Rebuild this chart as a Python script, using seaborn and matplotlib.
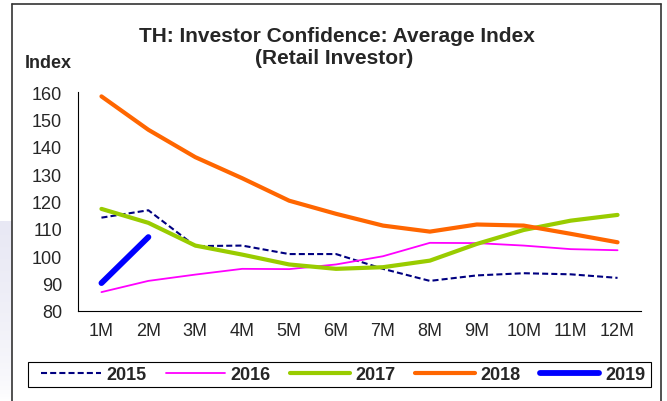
import numpy as np
import pandas as pd
import matplotlib
matplotlib.use("Agg")
import matplotlib.pyplot as plt
from matplotlib.lines import Line2D
from matplotlib.patches import Rectangle
import seaborn as sns

months = ['1M', '2M', '3M', '4M', '5M', '6M', '7M', '8M', '9M', '10M', '11M', '12M']
years = ['2015', '2016', '2017', '2018', '2019']
v2015 = [114.1, 116.8, 103.7, 103.9, 100.8, 100.8, 95.4, 91.0, 93.0, 93.8, 93.4, 92.1]
v2016 = [86.9, 91.0, 93.3, 95.4, 95.3, 97.0, 100.0, 104.9, 104.8, 103.9, 102.6, 102.2]
v2017 = [117.3, 112.2, 103.9, 100.6, 97.0, 95.4, 96.0, 98.4, 104.5, 109.6, 113.0, 115.1]
v2018 = [158.4, 146.2, 136.2, 128.5, 120.3, 115.5, 111.2, 109.0, 111.6, 111.2, 108.2, 105.1]
v2019 = [90.2, 107.0]
yticks = [80, 90, 100, 110, 120, 130, 140, 150, 160]

series = {'2015': v2015, '2016': v2016, '2017': v2017, '2018': v2018, '2019': v2019}
rows = []
for yr in years:
    for m, v in zip(months, series[yr]):
        rows.append({'month': m, 'value': v, 'year': yr})
df = pd.DataFrame(rows)

colors = {'2015': '#000080', '2016': '#FF00FF', '2017': '#99CC00', '2018': '#FF6600', '2019': '#0000FF'}
widths = {'2015': 1.5, '2016': 1.3, '2017': 3.0, '2018': 3.0, '2019': 4.2}
dashes = {'2015': (2.9, 1.5), '2016': '', '2017': '', '2018': '', '2019': ''}

sns.set_style('white')
plt.rcParams['font.family'] = ['Liberation Sans', 'DejaVu Sans']

fig = plt.figure(figsize=(6.67, 4.02), dpi=100)
fig.patch.set_facecolor('white')

# lavender gradient strip on the left
gax = fig.add_axes([0, 0, 12 / 667, 180 / 402], zorder=-5)
grad = np.linspace(1, 0, 100).reshape(-1, 1) ** 0.6
gax.imshow(grad, aspect='auto', cmap=matplotlib.colors.LinearSegmentedColormap.from_list('lv', ['#FFFFFF', '#E8E8F4']),
           extent=[0, 1, 0, 1], origin='upper')
gax.axis('off')

ax = fig.add_axes([78 / 667, 1 - 312 / 402, (641 - 78) / 667, (312 - 93) / 402])
sns.lineplot(data=df, x='month', y='value', hue='year', size='year', style='year',
             palette=colors, sizes=widths, dashes=dashes, hue_order=years,
             size_order=years, style_order=years, sort=False, ax=ax, legend='full')
for ln in ax.get_lines():
    ln.set_solid_capstyle('round')
handles, labels = ax.get_legend_handles_labels()
ax.get_legend().remove()

ax.set_xlim(-0.5, 11.5)
ax.set_ylim(80, 160)
ax.set_yticks(yticks)
ax.set_xticks(np.arange(-0.5, 12, 1))
ax.set_xticklabels([])
ax.set_xticks(np.arange(12), minor=True)
ax.set_xticklabels(months, minor=True)
ax.tick_params(axis='x', which='major', direction='out', length=4, width=0.8, color='black')
ax.tick_params(axis='x', which='minor', length=0, pad=8, labelsize=13)
ax.tick_params(axis='y', direction='out', length=4, width=0.8, color='black', pad=7.5, labelsize=13)
ax.set_xlabel('')
ax.set_ylabel('')
for s in ['top', 'right']:
    ax.spines[s].set_visible(False)
for s in ['left', 'bottom']:
    ax.spines[s].set_color('black')
    ax.spines[s].set_linewidth(0.8)

fig.text(337 / 667, 1 - 42 / 402, 'TH: Investor Confidence: Average Index', ha='center', va='baseline',
         fontsize=15, fontweight='bold')
fig.text(334 / 667, 1 - 64 / 402, '(Retail Investor)', ha='center', va='baseline',
         fontsize=15, fontweight='bold')
fig.text(25 / 667, 1 - 68 / 402, 'Index', ha='left', va='baseline', fontsize=13, fontweight='bold')

# legend frame drawn separately, entries placed inside
fig.add_artist(Rectangle((28 / 667, 1 - 388 / 402), (651 - 28) / 667, 25 / 402,
                         transform=fig.transFigure, facecolor='white', edgecolor='black', lw=0.8))
leg = fig.legend(handles, labels, loc='center left',
                 bbox_to_anchor=(41 / 667, 1 - 388.5 / 402, (645 - 41) / 667, 25 / 402),
                 mode='expand', ncol=5, borderaxespad=0, frameon=False,
                 handlelength=3.3, handletextpad=0.3,
                 columnspacing=0.9, borderpad=0.0, prop={'weight': 'bold', 'size': 13})

# outer frame
fc = '#333333'
fig.add_artist(Line2D([12 / 667, 12 / 667], [0, 1 - 5 / 402], transform=fig.transFigure, color=fc, lw=1.2))
fig.add_artist(Line2D([12 / 667, 661 / 667], [1 - 5 / 402, 1 - 5 / 402], transform=fig.transFigure, color=fc, lw=1.2))
fig.add_artist(Line2D([661 / 667, 661 / 667], [0, 1 - 5 / 402], transform=fig.transFigure, color=fc, lw=1.2))

fig.savefig('out.png', dpi=100)
